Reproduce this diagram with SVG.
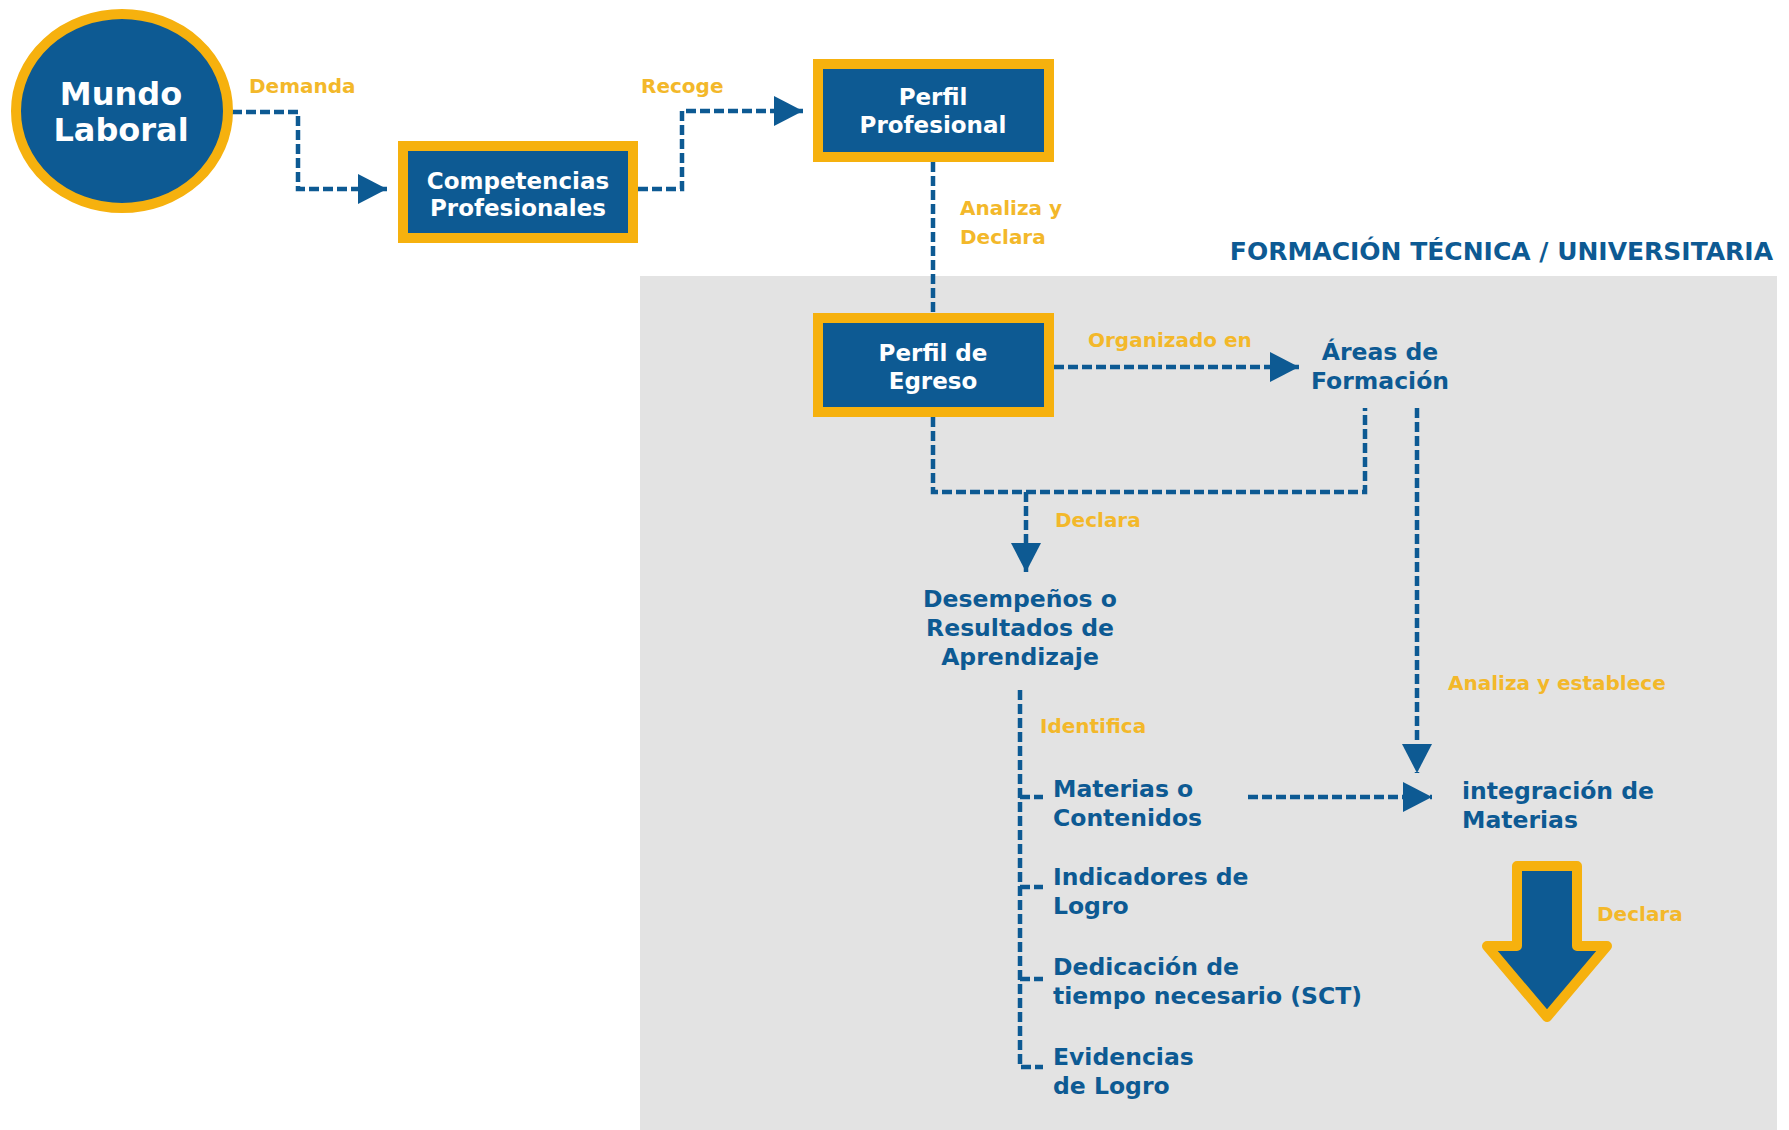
<svg xmlns="http://www.w3.org/2000/svg" width="1789" height="1130" viewBox="0 0 1789 1130">
<style>
.bg{fill:#e3e3e3}
.box{fill:#0d5a93;stroke:#f6b10e;stroke-width:10}
.wt{font-family:"DejaVu Sans","Open Sans",sans-serif;font-weight:700;fill:#ffffff;text-anchor:middle;font-size:23px}
.bt{font-family:"DejaVu Sans","Open Sans",sans-serif;font-weight:700;fill:#0d5a93;font-size:23.5px}
.lb{font-family:"DejaVu Sans","Open Sans",sans-serif;font-weight:700;fill:#f3b82a;font-size:20px}
.c{fill:none;stroke:#0d5a93;stroke-width:4.5;stroke-dasharray:10 4}
.mid{text-anchor:middle}
</style>
<defs>
<marker id="ah" markerUnits="userSpaceOnUse" markerWidth="29" markerHeight="30" viewBox="0 0 29 30" refX="29" refY="15" orient="auto">
<path d="M0,0 L29,15 L0,30 Z" fill="#0d5a93"/>
</marker>
</defs>
<rect class="bg" x="640" y="276" width="1137" height="854"/>
<text class="bt" x="1773" y="260" text-anchor="end" style="font-size:25px">FORMACIÓN TÉCNICA / UNIVERSITARIA</text>

<g id="connectors">
<path class="c" d="M232,112 H298 V189 H387" marker-end="url(#ah)"/>
<path class="c" d="M638,189 H682 V111 H803" marker-end="url(#ah)"/>
<path class="c" d="M933,162 V313"/>
<path class="c" d="M1054,367 H1299" marker-end="url(#ah)"/>
<path class="c" d="M933,417 V492 H1365 V408"/>
<path class="c" d="M1026,492 V572" marker-end="url(#ah)"/>
<path class="c" d="M1417,408 V773" marker-end="url(#ah)"/>
<path class="c" d="M1020,690 V1067 H1043"/>
<path class="c" d="M1020,797 H1043"/>
<path class="c" d="M1020,887 H1043"/>
<path class="c" d="M1020,979 H1043"/>
<path class="c" d="M1248,797 H1432" marker-end="url(#ah)"/>
<text class="lb" x="249" y="93">Demanda</text>
<text class="lb" x="641" y="93">Recoge</text>
<text class="lb" x="960" y="215">Analiza y</text>
<text class="lb" x="960" y="244">Declara</text>
<text class="lb" x="1088" y="347">Organizado en</text>
<text class="lb" x="1055" y="527">Declara</text>
<text class="lb" x="1040" y="733">Identifica</text>
<text class="lb" x="1448" y="690">Analiza y establece</text>
<text class="lb" x="1597" y="921">Declara</text>
</g>

<g id="mundo-laboral">
<ellipse class="box" cx="122" cy="111" rx="106" ry="97"/>
<text class="wt" x="121" y="105" style="font-size:32px">Mundo</text>
<text class="wt" x="121" y="141" style="font-size:32px">Laboral</text>
</g>

<g id="competencias-profesionales">
<rect class="box" x="403" y="146" width="230" height="92"/>
<text class="wt" x="518" y="189">Competencias</text>
<text class="wt" x="518" y="216">Profesionales</text>
</g>

<g id="perfil-profesional">
<rect class="box" x="818" y="64" width="231" height="93"/>
<text class="wt" x="933" y="105">Perfil</text>
<text class="wt" x="933" y="133">Profesional</text>
</g>

<g id="perfil-egreso">
<rect class="box" x="818" y="318" width="231" height="94"/>
<text class="wt" x="933" y="361">Perfil de</text>
<text class="wt" x="933" y="389">Egreso</text>
</g>

<g id="areas-formacion">
<text class="bt mid" x="1380" y="360">Áreas de</text>
<text class="bt mid" x="1380" y="389">Formación</text>
</g>

<g id="desempenos">
<text class="bt mid" x="1020" y="607">Desempeños o</text>
<text class="bt mid" x="1020" y="636">Resultados de</text>
<text class="bt mid" x="1020" y="665">Aprendizaje</text>
</g>

<g id="materias">
<text class="bt" x="1053" y="797">Materias o</text>
<text class="bt" x="1053" y="826">Contenidos</text>
</g>
<g id="indicadores">
<text class="bt" x="1053" y="885">Indicadores de</text>
<text class="bt" x="1053" y="914">Logro</text>
</g>
<g id="dedicacion">
<text class="bt" x="1053" y="975">Dedicación de</text>
<text class="bt" x="1053" y="1004">tiempo necesario (SCT)</text>
</g>
<g id="evidencias">
<text class="bt" x="1053" y="1065">Evidencias</text>
<text class="bt" x="1053" y="1094">de Logro</text>
</g>

<g id="integracion">
<text class="bt" x="1462" y="799">integración de</text>
<text class="bt" x="1462" y="828">Materias</text>
</g>

<g id="big-arrow">
<path d="M1517,866 H1577 V946 H1607 L1547,1017 L1487,946 H1517 Z" fill="#0d5a93" stroke="#f6b10e" stroke-width="10" stroke-linejoin="round"/>
</g>
</svg>
